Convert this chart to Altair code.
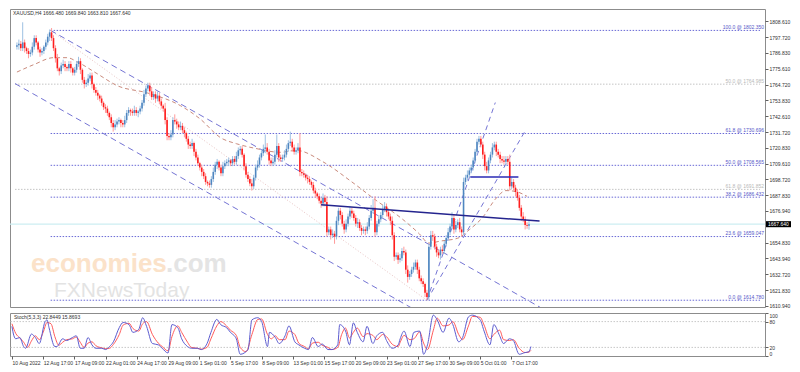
import altair as alt
import pandas as pd

# ---------------- data ----------------
first_open = 1791.0
closes = [
 1792,1793,1790,1794,1790,1788,1786,1787,1791,1797,
 1794,1789,1787,1788,1791,1794,1798,1801,1797,1790,
 1783,1776,1774,1778,1779,1777,1776,1779,1776,1773,
 1775,1779,1781,1775,1768,1765,1766,1769,1771,1765,
 1761,1759,1757,1755,1752,1749,1748,1745,1742,1738,
 1735,1737,1739,1740,1738,1737,1740,1745,1747,1746,
 1745,1747,1745,1746,1748,1752,1758,1762,1764,1760,
 1756,1758,1755,1757,1753,1750,1748,1740,1729,1728,
 1730,1740,1739,1737,1735,1736,1733,1731,1727,1723,
 1722,1724,1718,1714,1710,1707,1704,1701,1697,1696,
 1695,1699,1704,1709,1711,1707,1703,1708,1710,1711,
 1712,1710,1713,1711,1715,1719,1720,1716,1708,1702,
 1699,1696,1694,1700,1707,1709,1714,1717,1720,1721,
 1718,1712,1710,1711,1716,1722,1714,1713,1714,1716,
 1720,1724,1725,1721,1718,1719,1721,1704,1703,1702,
 1700,1699,1697,1695,1691,1689,1687,1684,1682,1686,
 1683,1662,1664,1660,1661,1659,1670,1677,1674,1668,
 1664,1668,1673,1677,1675,1672,1668,1669,1665,1663,
 1664,1663,1666,1672,1677,1679,1662,1668,1671,1674,
 1678,1680,1676,1673,1670,1660,1645,1646,1643,1644,
 1649,1648,1636,1631,1633,1636,1638,1641,1636,1630,
 1628,1626,1620,1617,1652,1660,1659,1652,1648,1646,
 1650,1649,1654,1658,1662,1666,1672,1664,1667,1669,
 1664,1662,1697,1700,1702,1705,1707,1712,1718,1725,
 1727,1723,1716,1708,1705,1712,1716,1721,1723,1718,
 1716,1713,1712,1711,1713,1711,1694,1697,1693,1690,
 1686,1679,1673,1671,1667,1666.48,1667.64]
wick_up = [
 2,3,2,14,2,1,2,2,3,2, 2,1,2,2,1,2,2,2,3,2, 2,3,1,2,3,2,1,2,2,1,
 2,2,3,2,1,2,2,3,2,2, 1,2,2,1,2,1,2,2,1,2, 2,3,2,2,1,2,3,2,2,1,
 2,3,2,1,2,2,3,2,2,2, 3,2,2,3,2,2,1,4,2,2, 3,2,4,2,2,3,2,2,1,2,
 2,3,1,2,2,1,2,2,2,1, 2,2,3,2,2,1,2,3,2,2, 2,1,2,2,3,2,2,2,1,2,
 2,2,3,2,2,3,2,2,3,9, 3,2,2,3,3,8,2,2,2,3, 3,2,7,2,2,2,3,10,2,2,
 1,2,2,1,2,2,1,2,2,3, 2,4,2,2,3,2,3,2,2,2, 2,3,2,3,2,2,2,3,2,2,
 2,2,3,2,4,6,8,2,3,2, 3,3,2,2,2,3,2,2,2,3, 2,3,2,3,2,2,3,2,2,2,
 2,2,1,2,2,3,3,2,2,2, 2,3,2,2,3,2,4,2,3,2, 3,2,3,2,3,2,2,2,2,2,
 2,2,2,2,3,2,2,3,2,2, 2,2,2,3,2,2,5,3,2,2, 2,2,2,3,2,2,2.2]
wick_dn = [
 2,3,2,2,3,2,3,2,2,2, 2,2,3,2,2,2,2,3,2,2, 3,2,3,2,2,3,2,2,3,2,
 2,2,2,3,2,3,2,2,2,3, 2,2,3,2,2,2,3,2,2,3, 3,2,2,2,3,2,2,2,2,3,
 2,2,2,3,2,2,2,2,2,3, 2,2,3,2,2,2,2,3,3,2, 2,2,2,3,2,2,2,3,2,3,
 2,2,3,2,2,2,3,2,2,2, 2,2,2,2,3,2,2,2,2,2, 3,2,2,2,2,2,3,2,3,2,
 2,2,3,2,2,2,2,2,2,3, 2,3,2,2,2,2,3,2,2,2, 2,2,2,3,2,2,2,3,2,2,
 2,3,2,2,2,3,2,2,3,2, 3,3,2,3,2,5,2,3,3,2, 3,2,2,2,3,2,2,3,2,3,
 2,3,2,2,2,2,3,2,2,2, 2,2,3,2,3,3,3,2,3,2, 2,2,3,4,2,2,2,2,3,2,
 2,2,3,2.2,2,2,3,2,3,2, 3,2,2,2,2,2,2,3,2,2, 2,3,2,2,2,2,2,2,2,2,
 2,2,3,3,2,2,2,2,2,3, 2,3,2,2,3,2,3,2,2,3, 2,2,3,2,3,2,2.67]

ma_idx = [0,9,19,26,32,42,52,68,85,95,106,114,124,137,145,159,174,187,199,209,214,220,229,235,242,249,254,259,265]
ma_val = [1773.4,1778.7,1783.4,1783.4,1780,1772,1764,1758.8,1750,1741,1727.6,1723.6,1720.3,1717.6,1719,1711,1697,1683.8,1672.5,1661,1654.5,1655.9,1657.9,1663.8,1672.5,1685.8,1691,1690.4,1687]

k_idx = [0,1,2,4,6,7,10,12,14,17,18,19,22,23,26,28,31,33,35,37,39,41,43,46,48,50,52,55,57,60,62,65,67,69,72,75,77,80,82,85,87,90,92,95,97,100,102,105,107,110,112,115,117,121,123,126,128,131,132,135,137,140,142,145,147,150,152,154,157,159,162,164,167,168,171,173,175,177,180,182,185,187,190,192,195,198,199,201,204,206,209,211,213,216,218,221,224,226,229,231,234,236,240,242,245,247,250,252,255,257,260,263,265,266]
k_val = [69,47,40,43,22,18,51,43,29,80,84,66,22,22,40,36,43,47,18,18,43,26,18,18,15,22,33,66,78,73,55,62,89,69,29,26,18,7,73,66,40,22,18,18,15,29,55,85,73,66,55,40,4,15,84,89,80,22,55,43,29,47,70,33,26,18,15,43,22,28,15,15,26,73,58,26,77,55,33,69,29,47,55,36,18,26,40,58,22,55,58,4,26,95,84,55,88,73,33,43,91,95,84,58,26,73,47,29,40,36,4,8,10,22]
d_idx = [0,2,4,6,8,10,12,14,16,18,20,22,24,26,28,31,33,35,37,39,41,43,46,48,50,52,55,57,60,62,65,67,69,72,75,77,80,82,85,87,90,92,95,97,100,102,105,107,110,112,115,117,120,123,126,128,131,133,135,137,140,142,145,147,150,152,154,157,159,162,164,167,169,171,173,175,177,180,182,185,187,190,192,195,198,199,201,204,206,209,211,213,216,218,221,224,226,229,231,234,236,240,242,245,247,250,252,255,257,260,263,265,266]
d_val = [75,52,42,32,20,35,47,38,55,78,75,45,25,32,38,40,44,32,20,30,33,24,19,17,18,27,50,72,76,64,58,75,80,50,30,22,12,45,70,55,32,20,18,16,20,40,70,80,70,60,48,20,10,50,85,86,50,40,47,38,38,58,50,30,22,17,30,32,25,20,15,20,50,65,42,55,65,45,52,48,38,50,45,27,22,32,48,38,40,56,30,15,60,88,70,72,80,50,38,70,92,90,72,40,50,60,38,36,38,18,8,9,13]

fib_blue_lvl = ["100.0", "61.8", "50.0", "38.2", "23.6", "0.0"]
fib_blue_val = [1802.350, 1730.696, 1708.565, 1686.432, 1659.047, 1614.780]
fib_gray_lvl = ["50.0", "61.8"]
fib_gray_val = [1764.985, 1691.852]

price_ticks = [1808.610,1797.720,1786.830,1775.610,1764.720,1753.830,1742.610,1731.720,1720.830,
               1709.610,1698.720,1687.830,1676.940,1654.830,1643.940,1632.720,1621.830,1610.940]
date_labels = ["10 Aug 2022","12 Aug 17:00","17 Aug 09:00","22 Aug 01:00","24 Aug 17:00","29 Aug 09:00",
               "1 Sep 01:00","5 Sep 17:00","8 Sep 09:00","13 Sep 01:00","15 Sep 17:00","20 Sep 09:00",
               "23 Sep 01:00","27 Sep 17:00","30 Sep 09:00","5 Oct 01:00","7 Oct 17:00"]

# channel / trend lines: (id, bar index, price)
desc_lines = [("u", 17.5, 1802.35), ("u", 300, 1588.5), ("l", -1, 1765.4), ("l", 300, 1537.5)]
rise_lines = [("a", 213, 1614.78), ("a", 248.5, 1752.2), ("b", 213, 1614.78), ("b", 264.5, 1733.6)]
fib_anchor = [(17.5, 1802.35), (213, 1614.78)]
trend_line = [(158, 1681.1), (271.5, 1669.8)]
neck_line = [(235.5, 1700.4), (260.5, 1700.4)]
last_price = 1667.64

# ---------------- build ----------------
FONT = "Liberation Sans"
W, HM, HS = 755, 298, 43
xs = alt.Scale(domain=[-1, 386], nice=False, zero=False)
ys = alt.Scale(domain=[1610.07, 1817.24], nice=False, zero=False)
ss = alt.Scale(domain=[0, 100], nice=False, zero=False)

opens = [first_open] + closes[:-1]
rows = []
for i, (o, c, wu, wd) in enumerate(zip(opens, closes, wick_up, wick_dn)):
    rows.append({"i": i, "o": o, "c": c, "h": max(o, c) + wu, "l": min(o, c) - wd,
                 "dir": "up" if c >= o else "down"})
cdf = pd.DataFrame(rows)
up = cdf[cdf.dir == "up"]
dn = cdf[cdf.dir == "down"]

price_axis = alt.Axis(orient="right", values=price_ticks, format=".3f", labelFont=FONT,
                      labelFontSize=5, labelColor="#303030", tickSize=3, tickColor="#606060",
                      labelPadding=1, domain=False, grid=False, labelOverlap=False)

X = lambda f: alt.X(f, scale=xs, axis=None, title=None)
Y = lambda f: alt.Y(f, scale=ys, axis=price_axis, title=None)

one = pd.DataFrame({"a": [0]})

wm1 = alt.Chart(one).mark_text(text="economies", font=FONT, fontSize=26, fontWeight="bold",
                               color="#fbe2c9", align="left", baseline="alphabetic").encode(
    x=alt.value(21), y=alt.value(263))
wm2 = alt.Chart(one).mark_text(text=".com", font=FONT, fontSize=26, fontWeight="bold",
                               color="#e4e4e4", align="left", baseline="alphabetic").encode(
    x=alt.value(156), y=alt.value(263))
wm3 = alt.Chart(one).mark_text(text="FXNewsToday", font=FONT, fontSize=21,
                               color="#e3e3e3", align="left", baseline="alphabetic").encode(
    x=alt.value(44), y=alt.value(288))

bid = alt.Chart(pd.DataFrame({"p": [last_price]})).mark_rule(color="#cdeef2", strokeWidth=1.2).encode(
    y=Y("p:Q"))

fb = pd.DataFrame({"p": fib_blue_val, "lvl": fib_blue_lvl, "x0": [17.5] * 6, "x1": [386] * 6})
fb["t"] = [f"{a} @ {b:.3f}" for a, b in zip(fib_blue_lvl, fib_blue_val)]
fg = pd.DataFrame({"p": fib_gray_val, "lvl": fib_gray_lvl, "x0": [-1] * 2, "x1": [386] * 2})
fg["t"] = [f"{a} @ {b:.3f}" for a, b in zip(fib_gray_lvl, fib_gray_val)]

fbl = alt.Chart(fb).mark_rule(color="#6a6ad6", strokeDash=[1.5, 1.5], strokeWidth=1).encode(
    x=X("x0:Q"), x2="x1:Q", y=Y("p:Q"))
fgl = alt.Chart(fg).mark_rule(color="#c4c4c4", strokeDash=[1.5, 1.5], strokeWidth=1).encode(
    x=X("x0:Q"), x2="x1:Q", y=Y("p:Q"))
fbt = alt.Chart(fb).mark_text(font=FONT, fontSize=5, color="#5656c8", align="right",
                              baseline="bottom", dy=-0.5).encode(
    x=alt.value(W - 1), y=Y("p:Q"), text="t:N")
fgt = alt.Chart(fg).mark_text(font=FONT, fontSize=5, color="#b8b8b8", align="right",
                              baseline="bottom", dy=-0.5).encode(
    x=alt.value(W - 1), y=Y("p:Q"), text="t:N")

dl = pd.DataFrame(desc_lines, columns=["id", "i", "p"])
rl = pd.DataFrame(rise_lines, columns=["id", "i", "p"])
chan1 = alt.Chart(dl).mark_line(color="#7474d4", strokeDash=[6, 4], strokeWidth=1, clip=True).encode(
    x=X("i:Q"), y=Y("p:Q"), detail="id:N")
chan2 = alt.Chart(rl).mark_line(color="#7474d4", strokeDash=[5, 4], strokeWidth=1, clip=True).encode(
    x=X("i:Q"), y=Y("p:Q"), detail="id:N")
anch = alt.Chart(pd.DataFrame(fib_anchor, columns=["i", "p"])).mark_line(
    color="#e8c4c4", strokeDash=[1, 2], strokeWidth=1).encode(x=X("i:Q"), y=Y("p:Q"))

ma = alt.Chart(pd.DataFrame({"i": ma_idx, "p": ma_val})).mark_line(
    color="#c98a7c", strokeDash=[4, 3], strokeWidth=1, interpolate="monotone").encode(
    x=X("i:Q"), y=Y("p:Q"))

wu_ = alt.Chart(up).mark_rule(color="#9dc0e2", strokeWidth=1).encode(x=X("i:Q"), y=Y("l:Q"), y2="h:Q")
wd_ = alt.Chart(dn).mark_rule(color="#ff9a9a", strokeWidth=1).encode(x=X("i:Q"), y=Y("l:Q"), y2="h:Q")
bu = alt.Chart(up).mark_bar(color="#4f86c0", size=1.6).encode(x=X("i:Q"), y=Y("o:Q"), y2="c:Q")
bd = alt.Chart(dn).mark_bar(color="#ff1e1e", size=1.6).encode(x=X("i:Q"), y=Y("o:Q"), y2="c:Q")

tl = alt.Chart(pd.DataFrame(trend_line, columns=["i", "p"])).mark_line(
    color="#24248e", strokeWidth=1.5).encode(x=X("i:Q"), y=Y("p:Q"))
nl = alt.Chart(pd.DataFrame(neck_line, columns=["i", "p"])).mark_line(
    color="#2a2ab4", strokeWidth=1.5).encode(x=X("i:Q"), y=Y("p:Q"))

title = alt.Chart(one).mark_text(text="XAUUSD,H4  1666.480 1669.840 1663.810 1667.640", font=FONT,
                                 fontSize=5, color="#303030", align="left", baseline="middle").encode(
    x=alt.value(3), y=alt.value(4))

pbox_df = pd.DataFrame({"p": [last_price], "p1": [last_price + 2.1], "p2": [last_price - 2.1],
                        "t": [f"{last_price:.3f}"]})
pbox = alt.Chart(pbox_df).mark_rect(color="#000000", clip=False).encode(
    x=alt.value(W + 1), x2=alt.value(W + 26), y=Y("p1:Q"), y2="p2:Q")
ptxt = alt.Chart(pbox_df).mark_text(font=FONT, fontSize=5, color="white", align="left",
                                    baseline="middle", clip=False).encode(
    x=alt.value(W + 3), y=Y("p:Q"), text="t:N")

main = alt.layer(bid, wm1, wm2, wm3, fgl, fbl, anch, chan1, chan2, ma, wu_, wd_, bu, bd, tl, nl,
                 fgt, fbt, title, pbox, ptxt).properties(width=W, height=HM)

# ---------------- stochastic ----------------
SX = alt.X("i:Q", scale=xs, title=None,
           axis=alt.Axis(values=list(range(0, 257, 16)), labelFont=FONT, labelFontSize=5,
                         labelColor="#303030", labelAlign="left", tickSize=3, tickColor="#606060",
                         labelPadding=1, domain=False, grid=False, labelOverlap=False, labelFlush=False,
                         labelExpr="%s[round(datum.value/16)]" % str(date_labels)))
SY = alt.Y("v:Q", scale=ss, title=None,
           axis=alt.Axis(orient="right", values=[0, 20, 80, 100], labelFont=FONT, labelFontSize=5,
                         labelColor="#303030", tickSize=3, tickColor="#606060", labelPadding=1,
                         domain=False, grid=False, labelFlush=True))

lv = alt.Chart(pd.DataFrame({"v": [20, 80]})).mark_rule(color="#c8c8c8", strokeDash=[1.5, 1.5]).encode(
    y=SY)
kl = alt.Chart(pd.DataFrame({"i": k_idx, "v": k_val})).mark_line(
    color="#5c5cd0", strokeWidth=1, interpolate="monotone").encode(x=SX, y=SY)
dlin = alt.Chart(pd.DataFrame({"i": d_idx, "v": d_val})).mark_line(
    color="#ff5a5a", strokeWidth=1, interpolate="monotone").encode(x=SX, y=SY)
st = alt.Chart(one).mark_text(text="Stoch(5,3,3) 22.8449 15.8693", font=FONT, fontSize=5,
                              color="#303030", align="left", baseline="middle").encode(
    x=alt.value(4), y=alt.value(4))

stoch = alt.layer(lv, dlin, kl, st).properties(width=W, height=HS)

chart = alt.vconcat(main, stoch, spacing=2).properties(padding=0, background="white").configure_view(
    stroke="#8c8c8c", strokeWidth=1)

chart.save("out.html", embed_options={"renderer": "svg", "actions": False})
